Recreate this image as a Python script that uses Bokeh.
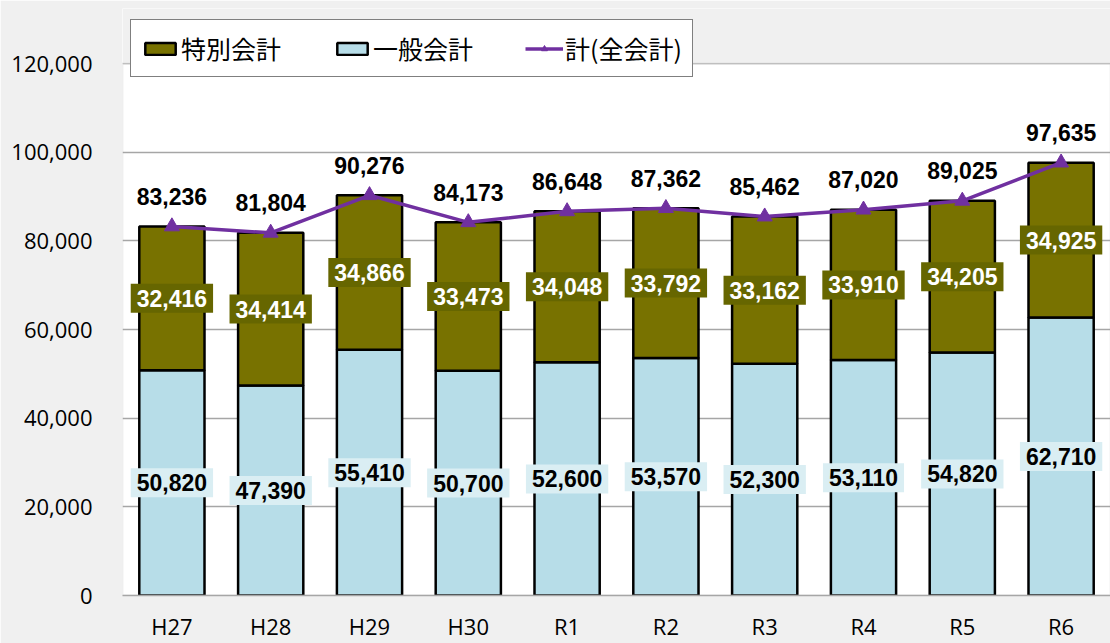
from bokeh.plotting import figure
from bokeh.models import (ColumnDataSource, Range1d, FactorRange, FixedTicker,
                          NumeralTickFormatter, LabelSet, Legend, LegendItem,
                          BoxAnnotation)
from bokeh.core.properties import value
from bokeh.embed import file_html
from bokeh.resources import INLINE

categories = ["H27", "H28", "H29", "H30", "R1", "R2", "R3", "R4", "R5", "R6"]
general = [50820, 47390, 55410, 50700, 52600, 53570, 52300, 53110, 54820, 62710]
special = [32416, 34414, 34866, 33473, 34048, 33792, 33162, 33910, 34205, 34925]
total = [83236, 81804, 90276, 84173, 86648, 87362, 85462, 87020, 89025, 97635]
y_ticks = [0, 20000, 40000, 60000, 80000, 100000, 120000]
y_max = 120000

OLIVE = "#787200"
OLIVE_LBL = "#666600"
BLUE = "#b7dde8"
BLUE_LBL = "#daeef3"
PURPLE = "#7030a0"
BG = "#f0f0f0"
GRID = "#a6a6a6"

# layout (screen pixels)
W, H = 1110, 643
plot_left, plot_top, plot_bottom = 122, 63, 595
frame_top = 8
# frame extends above the value axis max so that the legend can overlap it
y_end = y_max * (plot_bottom - frame_top) / (plot_bottom - plot_top)

src = ColumnDataSource(dict(
    cat=categories,
    general=general,
    special=special,
    total=total,
    g_mid=[g / 2 for g in general],
    s_mid=[g + s / 2 for g, s in zip(general, special)],
    g_txt=[f"{v:,}" for v in general],
    s_txt=[f"{v:,}" for v in special],
    t_txt=[f"{v:,}" for v in total],
))

p = figure(width=W, height=H, output_backend="svg", toolbar_location=None,
           x_range=FactorRange(*categories, range_padding=0),
           y_range=Range1d(0, y_end),
           min_border_left=plot_left, min_border_top=frame_top,
           min_border_bottom=H - plot_bottom, min_border_right=0)
p.border_fill_color = BG
p.background_fill_color = "white"
p.outline_line_color = None

bars = p.vbar_stack(["general", "special"], x="cat", width=0.66, source=src,
                    fill_color=[BLUE, OLIVE], line_color="black", line_width=2.5)
line = p.line("cat", "total", source=src, line_color=PURPLE, line_width=3.5)
pts = p.scatter("cat", "total", source=src, marker="triangle", size=15,
                fill_color=PURPLE, line_color=PURPLE)

lbl_font = value("Liberation Sans")
p.text(x="cat", y="g_mid", text="g_txt", source=src,
       text_align="center", text_baseline="middle",
       text_font=lbl_font, text_font_size="23px", text_font_style="bold",
       text_color="black", background_fill_color=BLUE_LBL, padding=6)
p.text(x="cat", y="s_mid", text="s_txt", source=src,
       text_align="center", text_baseline="middle",
       text_font=lbl_font, text_font_size="23px", text_font_style="bold",
       text_color="white", background_fill_color=OLIVE_LBL, padding=6)
p.add_layout(LabelSet(x="cat", y="total", text="t_txt", source=src,
                      text_align="center", text_baseline="middle", y_offset=30,
                      text_font=lbl_font, text_font_size="23px", text_font_style="bold",
                      text_color="black"))

# mask above the value-axis maximum and plot-area border
p.add_layout(BoxAnnotation(bottom=y_max, fill_color=BG, fill_alpha=1,
                           line_alpha=0))
p.add_layout(BoxAnnotation(bottom=0, top=y_max, left=0, right=len(categories),
                           fill_alpha=0, line_color=GRID, line_width=1.5))

# axes
p.yaxis.ticker = FixedTicker(ticks=y_ticks)
p.yaxis.formatter = NumeralTickFormatter(format="0,0")
for ax in (p.xaxis[0], p.yaxis[0]):
    ax.major_tick_line_color = None
    ax.minor_tick_line_color = None
    ax.major_label_text_font = "Open Sans"
    ax.major_label_text_font_size = "22px"
    ax.major_label_text_color = "black"
p.yaxis.axis_line_color = None
p.xaxis.axis_line_color = GRID
p.xaxis.axis_line_width = 1.5
p.yaxis.major_label_standoff = 24
p.xaxis.major_label_standoff = 9
p.xgrid.grid_line_color = None
p.ygrid.grid_line_color = GRID
p.ygrid.grid_line_width = 1.5

legend = Legend(items=[
    LegendItem(label="特別会計", renderers=[bars[1]]),
    LegendItem(label="一般会計", renderers=[bars[0]]),
    LegendItem(label="計(全会計)", renderers=[line, pts]),
], orientation="horizontal", location=(8, plot_bottom - 77))
legend.label_text_font = "Noto Sans CJK JP"
legend.label_text_font_size = "25px"
legend.label_text_color = "black"
legend.glyph_width = 38
legend.glyph_height = 15
legend.label_standoff = 2
legend.spacing = 52
legend.padding = 10
legend.border_line_color = "black"
legend.border_line_width = 1.5
legend.background_fill_color = "white"
legend.background_fill_alpha = 1
p.add_layout(legend, "center")

open("out.html", "w").write(file_html(p, INLINE))
